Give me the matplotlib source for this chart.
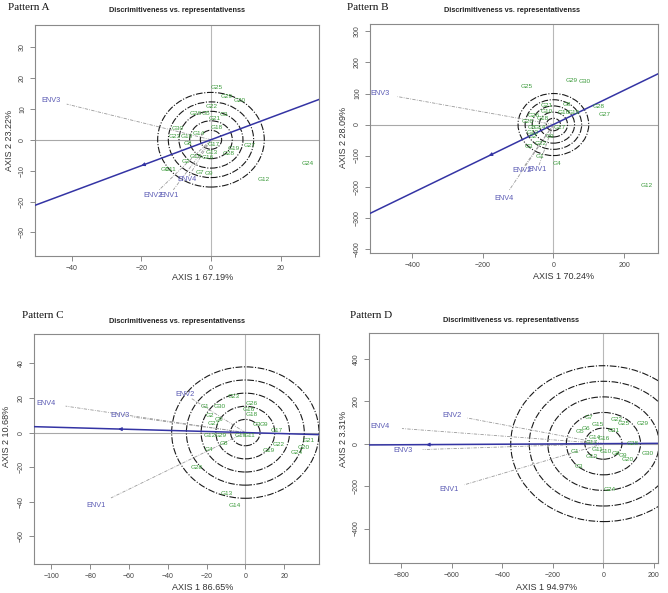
import matplotlib
matplotlib.use("Agg")
import matplotlib.pyplot as plt
from matplotlib.patches import Circle
import numpy as np

plt.rcParams['font.family'] = ['Liberation Sans', 'DejaVu Sans']

TITLE = "Discrimitiveness vs. representativenss"

# ---------------- Pattern A ----------------
a_gen_names = ["G25", "G29", "G20", "G22", "G26", "G5", "G3", "G21", "G18", "G30",
               "G14", "G23", "G10", "G8", "G17", "G13", "G19", "G28", "G27", "G15",
               "G16", "G2", "G7", "G9", "G12", "G24", "G1", "G11"]
a_gen_x = [1.6, 4.5, 8.1, 0.2, -4.3, -1.4, 3.6, 1.1, 1.6, -9.6,
           -3.6, -10.5, -7.0, -6.5, 0.9, 0.2, 6.4, 5.2, 11.1, -4.3,
           -0.8, -7.2, -3.1, -0.6, 15.0, 27.8, -13.2, -11.5]
a_gen_y = [16.9, 13.9, 12.8, 10.7, 8.5, 8.5, 8.2, 7.0, 3.9, 3.7,
           2.0, 1.2, 1.2, -1.2, -1.6, -4.0, -2.8, -4.4, -2.0, -5.5,
           -5.9, -6.9, -10.7, -10.9, -13.0, -7.7, -9.5, -9.5]
a_env_names = ["ENV3", "ENV2", "ENV1", "ENV4"]
a_env_x = [-46.0, -16.5, -12.0, -7.0]
a_env_y = [12.8, -18.0, -18.0, -13.0]
a_aea = (-20.0, -8.4)
a_radii = [3.06, 6.12, 9.18, 12.24, 15.3]
a_xlabel = "AXIS 1 67.19%"
a_ylabel = "AXIS 2 23.22%"
a_xticks = [-40, -20, 0, 20]
a_yticks = [-30, -20, -10, 0, 10, 20, 30]
a_xlim = (-50.5, 31)
a_ylim = (-37.6, 37.1)

# ---------------- Pattern B ----------------
b_gen_names = ["G25", "G29", "G30", "G28", "G27", "G12", "G4", "G1", "G21", "G8",
               "G16", "G19", "G26", "G10", "G5", "G14", "G2", "G3", "G22",
               "G17", "G9", "G13", "G20", "G18"]
b_gen_x = [-77, 52, 89, 127, 146, 263, 11, -38, -19, 38,
           28, 58, -56, -19, -62, -38, -58, -70, -36,
           19, -10, -60, -72, -30]
b_gen_y = [124, 141, 140, 59, 32, -196, -124, -104, 61, 66,
           40, 40, 30, 41, -8, -8, -40, -72, -61,
           -8, -40, -25, 10, 20]
b_env_names = ["ENV3", "ENV2", "ENV1", "ENV4"]
b_env_x = [-490, -90, -45, -140]
b_env_y = [100, -147, -145, -237]
b_aea = (-183, -101)
b_radii = [20, 40, 60, 80, 100]
b_xlabel = "AXIS 1 70.24%"
b_ylabel = "AXIS 2 28.09%"
b_xticks = [-400, -200, 0, 200]
b_yticks = [-400, -300, -200, -100, 0, 100, 200, 300]
b_xlim = (-519, 296)
b_ylim = (-414, 324)

# ---------------- Pattern C ----------------
c_gen_names = ["G23", "G1", "G30", "G2", "G5", "G27", "G26", "G16", "G18", "G3",
               "G9", "G17", "G12", "G29", "G10", "G11", "G8", "G4", "G22", "G19",
               "G21", "G20", "G24", "G28", "G13", "G14"]
c_gen_x = [-6, -21.0, -13, -18.4, -13.8, -16.4, 3.4, 1.7, 3.4, 6.0,
           9.5, 16.4, -18.5, -12.5, -2.6, 2.0, -11, -19, 17.2, 12,
           32.8, 30, 26.7, -25, -9.8, -5.2]
c_gen_y = [21, 15, 15, 10, 7.4, 5.0, 16.6, 13.5, 10.6, 4.8,
           4.8, 1.2, -1.9, -1.9, -1.5, -1.5, -6.2, -10, -6.8, -10.6,
           -4.3, -8.7, -11.5, -20, -35, -42]
c_env_names = ["ENV4", "ENV3", "ENV2", "ENV1"]
c_env_x = [-103, -64.6, -31, -77]
c_env_y = [17, 10, 22, -42]
c_aea = (-67, 2.1)
c_radii = [7.6, 15.2, 22.8, 30.4, 38.0]
c_xlabel = "AXIS 1 86.65%"
c_ylabel = "AXIS 2 10.68%"
c_xticks = [-100, -80, -60, -40, -20, 0, 20]
c_yticks = [-60, -40, -20, 0, 20, 40]
c_xlim = (-109, 38)
c_ylim = (-76, 57)

# ---------------- Pattern D ----------------
d_gen_names = ["G7", "G22", "G25", "G29", "G15", "G21", "G5", "G6", "G14", "G16",
               "G17", "G28", "G1", "G11", "G10", "G13", "G8", "G9", "G20", "G30",
               "G3", "G24"]
d_gen_x = [-57, 53, 82, 154, -24, 40, -92, -70, -35, 3,
           -45, 115, -113, -24, 8, -48, 49, 75, 95, 174,
           -96, 26]
d_gen_y = [122, 116, 95, 95, 89, 64, 56, 72, 30, 26,
           5, 0, -37, -27, -35, -61, -46, -58, -75, -47,
           -108, -215]
d_env_names = ["ENV2", "ENV4", "ENV3", "ENV1"]
d_env_x = [-598, -886, -795, -611]
d_env_y = [134, 79, -31, -215]
d_aea = (-713, -4.7)
d_radii = [73.4, 146.8, 220.2, 293.6, 367.0]
d_xlabel = "AXIS 1 94.97%"
d_ylabel = "AXIS 2 3.31%"
d_xticks = [-800, -600, -400, -200, 0, 200]
d_yticks = [-400, -200, 0, 200, 400]
d_xlim = (-928, 216)
d_ylim = (-562, 521)

GEN_COLOR = "#3a9a3a"
ENV_COLOR = "#5a5ab4"
AEA_COLOR = "#3434a4"
W, H = 668, 593

fig = plt.figure(figsize=(W / 100, H / 100), dpi=100)


def px_axes(l, t, r, b):
    return fig.add_axes([l / W, 1 - b / H, (r - l) / W, (b - t) / H])


def draw_panel(ax, gn, gx, gy, en, ex, ey, aea, radii, xlim, ylim, xt, yt):
    ax.set_xlim(*xlim)
    ax.set_ylim(*ylim)
    ax.axhline(0, color="#a8a8a8", lw=0.8, zorder=1)
    ax.axvline(0, color="#b8b8b8", lw=0.8, zorder=1)
    for r in radii:
        ax.add_patch(Circle((0, 0), r, fill=False, ec="#1a1a1a", lw=0.8,
                            ls=(0, (6, 1.5, 1, 1.5)), zorder=2))
    for name, x, y in zip(en, ex, ey):
        ax.plot([0, x * 0.9], [0, y * 0.9], color="#9a9a9a", lw=0.6,
                ls=(0, (4, 1.5, 1, 1.5)), zorder=2)
        ax.text(x, y, name, color=ENV_COLOR, fontsize=5.3, ha="center",
                va="center", zorder=4)
    # average environment axis
    k = aea[1] / aea[0]
    xs = np.array(xlim)
    ax.plot(xs, xs * k, color=AEA_COLOR, lw=1.1, zorder=3)
    ax.annotate("", xy=aea, xytext=(aea[0] * 0.93, aea[1] * 0.93),
                arrowprops=dict(arrowstyle="-|>", color=AEA_COLOR, lw=0.8,
                                mutation_scale=5), zorder=3)
    for name, x, y in zip(gn, gx, gy):
        ax.text(x, y, name, color=GEN_COLOR, fontsize=4.6, ha="center",
                va="center", zorder=4)
    ax.set_xticks(xt)
    ax.set_yticks(yt)
    ax.tick_params(length=3.5, width=0.6, color="#777777", labelsize=5,
                   labelcolor="#444444", pad=3)
    ax.tick_params(axis="y", labelrotation=90)
    for lab in ax.get_yticklabels():
        lab.set_va("center")
    for s in ax.spines.values():
        s.set_color("#8a8a8a")
        s.set_linewidth(0.8)


panels = [
    dict(box=(35, 25, 319, 256), pat="Pattern A", pat_xy=(8, 7), title_xy=(177, 10),
         xl=a_xlabel, xl_xy=(203, 277), yl=a_ylabel, yl_xy=(10, 140),
         data=(a_gen_names, a_gen_x, a_gen_y, a_env_names, a_env_x, a_env_y, a_aea,
               a_radii, a_xlim, a_ylim, a_xticks, a_yticks)),
    dict(box=(370, 24, 658, 253), pat="Pattern B", pat_xy=(347, 7), title_xy=(512, 10),
         xl=b_xlabel, xl_xy=(564, 276), yl=b_ylabel, yl_xy=(344, 137),
         data=(b_gen_names, b_gen_x, b_gen_y, b_env_names, b_env_x, b_env_y, b_aea,
               b_radii, b_xlim, b_ylim, b_xticks, b_yticks)),
    dict(box=(34, 334, 319, 564), pat="Pattern C", pat_xy=(22, 316), title_xy=(177, 321),
         xl=c_xlabel, xl_xy=(203, 588), yl=c_ylabel, yl_xy=(7, 436),
         data=(c_gen_names, c_gen_x, c_gen_y, c_env_names, c_env_x, c_env_y, c_aea,
               c_radii, c_xlim, c_ylim, c_xticks, c_yticks)),
    dict(box=(369, 333, 658, 563), pat="Pattern D", pat_xy=(350, 316), title_xy=(511, 320),
         xl=d_xlabel, xl_xy=(547, 587), yl=d_ylabel, yl_xy=(344, 439),
         data=(d_gen_names, d_gen_x, d_gen_y, d_env_names, d_env_x, d_env_y, d_aea,
               d_radii, d_xlim, d_ylim, d_xticks, d_yticks)),
]

for p in panels:
    ax = px_axes(*p["box"])
    draw_panel(ax, *p["data"])
    fig.text(p["pat_xy"][0] / W, 1 - p["pat_xy"][1] / H, p["pat"],
             family=["Liberation Serif", "DejaVu Serif"], fontsize=8,
             ha="left", va="center", color="#111111")
    fig.text(p["title_xy"][0] / W, 1 - p["title_xy"][1] / H, TITLE,
             fontsize=5.3, fontweight="bold", ha="center", va="center", color="#222222")
    fig.text(p["xl_xy"][0] / W, 1 - p["xl_xy"][1] / H, p["xl"], fontsize=6.5,
             ha="center", va="center", color="#333333")
    fig.text(p["yl_xy"][0] / W, 1 - p["yl_xy"][1] / H, p["yl"], fontsize=6.5,
             ha="center", va="center", rotation=90, color="#333333")

fig.savefig("out.png", dpi=100)
